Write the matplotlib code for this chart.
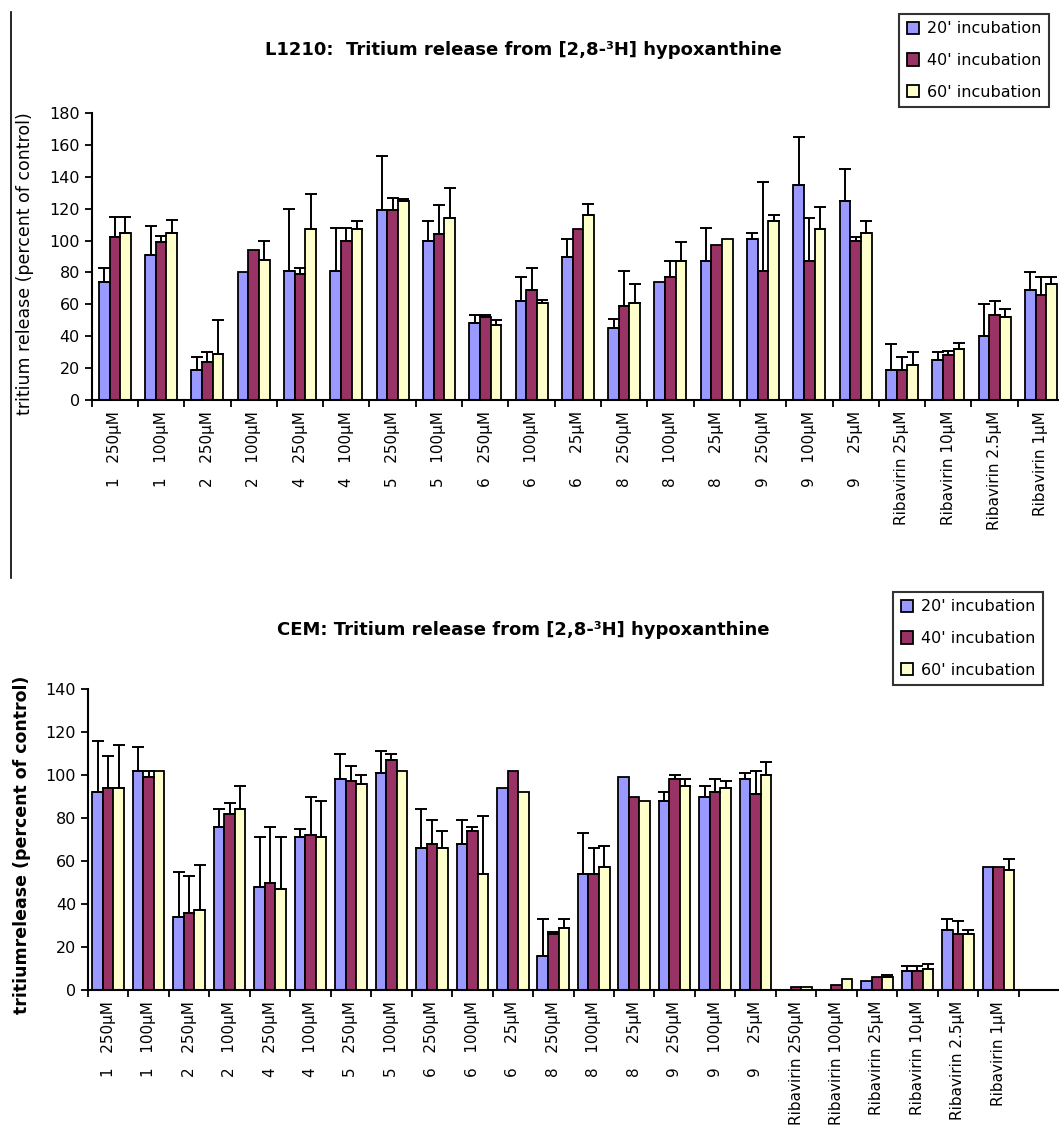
import numpy as np
import matplotlib
matplotlib.use("Agg")
import matplotlib.pyplot as plt
from matplotlib.lines import Line2D

W, H = 1059, 1146

series = ["20' incubation", "40' incubation", "60' incubation"]
colors = ["#9999FF", "#993366", "#FFFFCC"]

# L1210 panel
l1210_labels = ["1   250µM", "1   100µM", "2   250µM", "2   100µM", "4   250µM", "4   100µM",
                "5   250µM", "5   100µM", "6   250µM", "6   100µM", "6     25µM", "8   250µM",
                "8   100µM", "8     25µM", "9   250µM", "9   100µM", "9     25µM",
                "Ribavirin 25µM", "Ribavirin 10µM", "Ribavirin 2.5µM", "Ribavirin 1µM"]
l1210_20 = [74, 91, 19, 80, 81, 81, 119, 100, 48, 62, 90, 45, 74, 87, 101, 135, 125, 19, 25, 40, 69]
l1210_20_err = [9, 18, 8, 0, 39, 27, 34, 12, 5, 15, 11, 6, 0, 21, 4, 30, 20, 16, 5, 20, 11]
l1210_40 = [102, 99, 24, 94, 79, 100, 119, 104, 52, 69, 107, 59, 77, 97, 81, 87, 100, 19, 28, 53, 66]
l1210_40_err = [13, 4, 6, 0, 4, 8, 8, 18, 1, 14, 0, 22, 10, 0, 56, 27, 2, 8, 3, 9, 11]
l1210_60 = [105, 105, 29, 88, 107, 107, 125, 114, 47, 61, 116, 61, 87, 101, 112, 107, 105, 22, 32, 52, 73]
l1210_60_err = [10, 8, 21, 12, 22, 5, 1, 19, 3, 2, 7, 12, 12, 0, 4, 14, 7, 8, 4, 5, 4]

# CEM panel
cem_labels = ["1   250µM", "1   100µM", "2   250µM", "2   100µM", "4   250µM", "4   100µM",
              "5   250µM", "5   100µM", "6   250µM", "6   100µM", "6     25µM", "8   250µM",
              "8   100µM", "8     25µM", "9   250µM", "9   100µM", "9     25µM",
              "Ribavirin 250µM", "Ribavirin 100µM", "Ribavirin 25µM", "Ribavirin 10µM",
              "Ribavirin 2.5µM", "Ribavirin 1µM"]
cem_20 = [92, 102, 34, 76, 48, 71, 98, 101, 66, 68, 94, 16, 54, 99, 88, 90, 98, 0, 0, 4, 9, 28, 57]
cem_20_err = [24, 11, 21, 8, 23, 4, 12, 10, 18, 11, 0, 17, 19, 0, 4, 5, 3, 0, 0, 0, 2, 5, 0]
cem_40 = [94, 99, 36, 82, 50, 72, 97, 107, 68, 74, 102, 26, 54, 90, 98, 92, 91, 1.5, 2.5, 6, 9, 26, 57]
cem_40_err = [15, 3, 17, 5, 26, 18, 7, 3, 11, 2, 0, 1, 12, 0, 2, 6, 11, 0, 0, 0, 2, 6, 0]
cem_60 = [94, 102, 37, 84, 47, 71, 96, 102, 66, 54, 92, 29, 57, 88, 95, 94, 100, 1.5, 5, 6, 10, 26, 56]
cem_60_err = [20, 0, 21, 11, 24, 17, 4, 0, 8, 27, 0, 4, 10, 0, 3, 3, 6, 0, 0, 1, 2, 2, 5]


def draw_panel(ax, labels, vals, errs, width, xmax, ymax, nticks):
    n = len(labels)
    x = np.arange(n) + 0.5
    for i, (v, e) in enumerate(zip(vals, errs)):
        xs = x + (i - 1) * width
        v = np.array(v, dtype=float)
        e = np.array(e, dtype=float)
        ax.bar(xs, v, width, color=colors[i], edgecolor="black", linewidth=1.3,
               label=series[i], zorder=2)
        m = e > 0
        ax.errorbar(xs[m], v[m], yerr=[np.zeros(m.sum()), e[m]], fmt="none",
                    ecolor="black", elinewidth=1.4, capsize=4, capthick=1.4, zorder=3)
    ax.set_xlim(0, xmax)
    ax.set_ylim(0, ymax)
    ax.set_yticks(np.arange(0, ymax + 1, 20))
    ax.set_xticks(np.arange(0, nticks + 1))
    ax.set_xticklabels([])
    ax.set_xticks(x, minor=True)
    ax.set_xticklabels(labels, minor=True, rotation=90, fontsize=11, va="top", ha="center")
    ax.tick_params(axis="x", which="minor", length=0, pad=8)
    ax.tick_params(axis="x", which="major", length=5, width=1.3, direction="out")
    ax.tick_params(axis="y", length=5, width=1.3, direction="out", labelsize=11.5)
    for s in ["top", "right"]:
        ax.spines[s].set_visible(False)
    for s in ["left", "bottom"]:
        ax.spines[s].set_linewidth(1.5)


def add_legend(ax, right, top):
    h, l = ax.get_legend_handles_labels()
    leg = fig.legend(h, l, loc="upper right", bbox_to_anchor=(right / W, 1 - top / H),
                     fontsize=11.5, frameon=True, fancybox=False, edgecolor="black",
                     handlelength=0.8, handleheight=0.8, handletextpad=0.5,
                     labelspacing=1.05, borderpad=0.45, borderaxespad=0)
    leg.get_frame().set_linewidth(1.5)


fig = plt.figure(figsize=(W / 100, H / 100), dpi=100)

# top panel
ax1 = fig.add_axes([91.7 / W, (H - 400) / H, (1064 - 91.7) / W, 287 / H])
draw_panel(ax1, l1210_labels, [l1210_20, l1210_40, l1210_60],
           [l1210_20_err, l1210_40_err, l1210_60_err], 0.23, 21, 180, 21)
fig.text(523 / W, 1 - 50 / H, "L1210:  Tritium release from [2,8-³H] hypoxanthine",
         ha="center", va="center", fontsize=13, fontweight="bold")
fig.text(25 / W, 1 - 264 / H, "tritium release (percent of control)", rotation=90,
         ha="center", va="center", fontsize=12.5)
add_legend(ax1, 1049, 14)
fig.add_artist(Line2D([11 / W, 11 / W], [1 - 12 / H, 1 - 578 / H], color="black", lw=1.2))

# bottom panel
ax2 = fig.add_axes([88 / W, (H - 990) / H, (W - 88) / W, 301 / H])
draw_panel(ax2, cem_labels, [cem_20, cem_40, cem_60],
           [cem_20_err, cem_40_err, cem_60_err], 0.26, 24, 140, 23)
fig.text(523 / W, 1 - 630 / H, "CEM: Tritium release from [2,8-³H] hypoxanthine",
         ha="center", va="center", fontsize=13, fontweight="bold")
fig.text(22 / W, 1 - 845 / H, "tritiumrelease (percent of control)", rotation=90,
         ha="center", va="center", fontsize=12.5, fontweight="bold")
add_legend(ax2, 1043, 592)

fig.savefig("out.png", dpi=100)
